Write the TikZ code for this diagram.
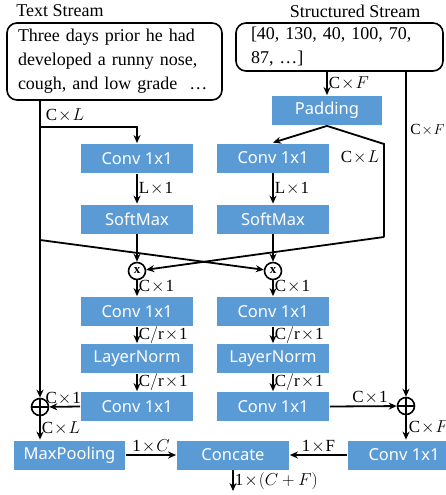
\documentclass[tikz,border=0pt]{standalone}
\usepackage{fontspec}
\setmainfont{Liberation Serif}
\newfontfamily\boxfont{Noto Sans}
\usetikzlibrary{arrows.meta,calc}
\definecolor{blk}{HTML}{5B9BD5}
\newcommand{\tms}{\mskip1mu{\times}\mskip1mu}
\begin{document}
\begin{tikzpicture}[x=1pt,y=-1pt, line width=1.8pt,
  arr/.style={-{Stealth[length=8pt,width=7pt]}},
  blkbox/.style={fill=blk, text=white, minimum width=112pt, minimum height=29pt, inner sep=0pt, font=\boxfont\fontsize{16.5}{18}\selectfont},
  tbox/.style={draw, rounded corners=10pt, line width=1.6pt, align=left, inner xsep=11pt, inner ysep=0pt, font=\fontsize{18}{24}\selectfont},
  title/.style={font=\fontsize{18}{20}\selectfont, inner sep=0pt},
  lab/.style={font=\fontsize{17}{19}\selectfont, inner sep=1pt},
  opc/.style={draw, circle, minimum size=17pt, inner sep=0pt, line width=1.6pt}]
\useasboundingbox (0,0) rectangle (446,495);

% titles
\node[title] (t1) at (60,11) {Text Stream};
\node[title] (t2) at (355,11) {Structured Stream};

% input boxes
\node[tbox, minimum width=215pt, minimum height=77pt, text width=193pt] (textbox) at (114.5,61.5)
  {Three days prior he had\\developed a runny nose,\\cough, and low grade \ …};
\node[tbox, minimum width=207pt, minimum height=48pt, inner xsep=15pt, text width=177pt] (structbox) at (339.5,47)
  {[40, 130, 40, 100, 70,\\87, …]};

% blue blocks
\node[blkbox, minimum width=110pt] (pad) at (327,110.5) {Padding};
\node[blkbox] (conv1L) at (137,158.5) {Conv 1x1};
\node[blkbox] (conv1R) at (273,158) {Conv 1x1};
\node[blkbox] (softL) at (137,219) {SoftMax};
\node[blkbox] (softR) at (273,219) {SoftMax};
\node[blkbox] (conv2L) at (137,311.5) {Conv 1x1};
\node[blkbox] (conv2R) at (273,311.5) {Conv 1x1};
\node[blkbox] (lnL) at (137,358.5) {LayerNorm};
\node[blkbox] (lnR) at (273,358.5) {LayerNorm};
\node[blkbox] (conv3L) at (137,406.5) {Conv 1x1};
\node[blkbox] (conv3R) at (273,406.5) {Conv 1x1};
\node[blkbox, minimum width=111pt] (maxp) at (69.5,455) {MaxPooling};
\node[blkbox] (concat) at (233,455) {Concate};
\node[blkbox] (conv4) at (404,455) {Conv 1x1};

% operator circles
\node[opc] (otL) at (137,271) {\fontsize{13}{13}\selectfont\bfseries x};
\node[opc] (otR) at (273,271) {\fontsize{13}{13}\selectfont\bfseries x};
\node[opc] (plL) at (40,407) {};
\node[opc] (plR) at (406,406) {};
\draw[line width=1.6pt] (plL.north) -- (plL.south) (plL.west) -- (plL.east);
\draw[line width=1.6pt] (plR.north) -- (plR.south) (plR.west) -- (plR.east);

% coordinates
\coordinate (bL) at (40,127);
\coordinate (cL) at (40,240);
\coordinate (pr1) at (384,144);
\coordinate (pr2) at (384,237);
\coordinate (outC) at (233,491);

% text stream
\draw (textbox.south -| bL) -- (bL);
\draw[arr] (bL) -| (conv1L.north);
\draw[arr] (bL) -- (plL.north);
\node[lab, anchor=west] (l1) at (44,115) {$\mathrm{C}\tms L$};
\draw[arr] (conv1L) -- node[lab, right] (l2) {$\mathrm{L}\tms\mathrm{1}$} (softL);
\draw[arr] (softL) -- (otL);
\draw[arr] (cL) -- (otR);

% structured stream
\draw[arr] (structbox.south -| pad) -- node[lab, right] (l3) {$\mathrm{C}\tms F$} (pad.north);
\draw[arr] (pad.south) -- (conv1R.north);
\draw (pad.south) -- (pr1) -- (pr2);
\draw[arr] (pr2) -- (otL);
\node[lab, anchor=east] (l4) at (381,157) {$\mathrm{C}\tms L$};
\draw[arr] (conv1R) -- node[lab, right] (l5) {$\mathrm{L}\tms\mathrm{1}$} (softR);
\draw[arr] (softR) -- (otR);
\draw[arr] (structbox.south -| plR) -- (plR.north);
\node[lab, anchor=east, inner sep=0pt, font=\fontsize{15.5}{17}\selectfont] (l6) at (445.5,130) {$\mathrm{C}\tms F$};

% lower columns
\draw[arr] (otL) -- node[lab, right, pos=0.4] (l7) {$\mathrm{C}\tms\mathrm{1}$} (conv2L);
\draw[arr] (otR) -- node[lab, right, pos=0.4] (l8) {$\mathrm{C}\tms\mathrm{1}$} (conv2R);
\draw[arr] (conv2L) -- node[lab, right] (l9) {$\mathrm{C}/\mathrm{r}\tms\mathrm{1}$} (lnL);
\draw[arr] (conv2R) -- node[lab, right] (l10) {$\mathrm{C}/\mathrm{r}\tms\mathrm{1}$} (lnR);
\draw[arr] (lnL) -- node[lab, right] (l11) {$\mathrm{C}/\mathrm{r}\tms\mathrm{1}$} (conv3L);
\draw[arr] (lnR) -- node[lab, right] (l12) {$\mathrm{C}/\mathrm{r}\tms\mathrm{1}$} (conv3R);
\draw[arr] (conv3L.west) -- node[lab, above, pos=0.55] (l13) {$\mathrm{C}\tms\mathrm{1}$} (plL);
\draw[arr] (conv3R.east) -- node[lab, above, pos=0.6] (l14) {$\mathrm{C}\tms\mathrm{1}$} (plR);

% bottom
\draw[arr] (plL) -- node[lab, right] (l15) {$\mathrm{C}\tms L$} (maxp.north -| plL);
\draw[arr] (plR) -- node[lab, right, inner sep=0pt, xshift=2pt] (l16) {$\mathrm{C}\tms F$} (conv4.north -| plR);
\draw[arr] (maxp.east) -- node[lab, above] (l17) {$\mathrm{1}\tms C$} (concat.west);
\draw[arr] (conv4.west) -- node[lab, above] (l18) {$\mathrm{1}\tms\mathrm{F}$} (concat.east);
\draw[arr] (concat.south) -- node[lab, right] (l19) {$\mathrm{1}\tms(C+F)$} (outC);
\end{tikzpicture}
\end{document}
